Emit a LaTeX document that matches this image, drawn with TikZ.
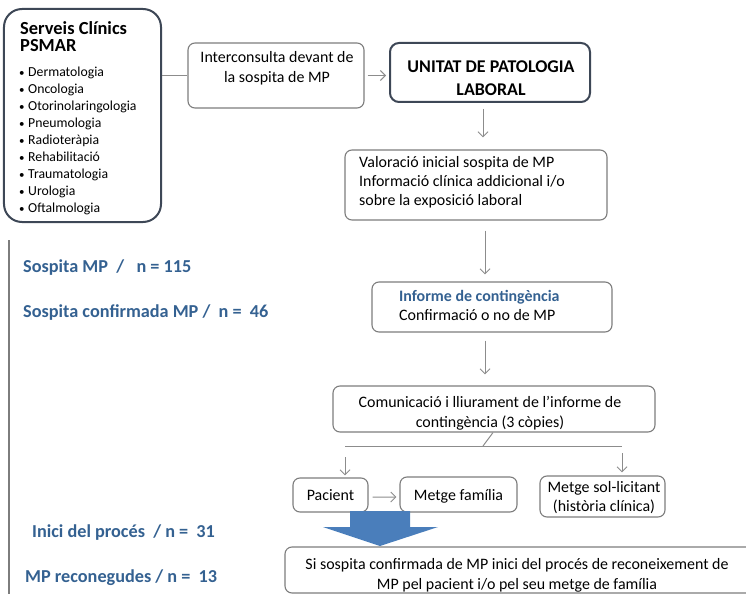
\documentclass[tikz,border=0pt]{standalone}
\usepackage{fontspec}
\setmainfont{Carlito}
\usetikzlibrary{arrows.meta,calc}
\definecolor{bluetxt}{RGB}{52,97,145}
\definecolor{boxgray}{RGB}{125,125,125}
\definecolor{darkbox}{RGB}{61,71,86}
\definecolor{arrowgray}{RGB}{140,140,140}
\definecolor{bigblue}{RGB}{74,126,187}
\begin{document}
\begin{tikzpicture}[x=1bp,y=-1bp,
  box/.style={draw=boxgray,line width=1.1bp,rounded corners=7bp,inner sep=0},
  darkboxst/.style={draw=darkbox,line width=2bp,rounded corners=9bp,inner sep=0},
  conn/.style={draw=arrowgray,line width=1bp},
  arr/.style={conn,-{Straight Barb[length=5bp,width=10bp]}},
  tl/.style={inner sep=0,anchor=base west,font=\fontsize{16}{19}\selectfont},
  tc/.style={inner sep=0,anchor=base,font=\fontsize{16}{19}\selectfont},
  bul/.style={inner sep=0,anchor=base west,font=\fontsize{13.8}{17}\selectfont},
  stat/.style={inner sep=0,anchor=base west,text=bluetxt,font=\fontsize{18.3}{20}\selectfont\bfseries},
]
\useasboundingbox (0,0) rectangle (746,594);

% boxes
\node[darkboxst,rounded corners=18bp,minimum width=157bp,minimum height=213bp] (serveis) at (82.5,115.5) {};
\node[box,minimum width=176bp,minimum height=65bp] (inter) at (276,75.5) {};
\node[darkboxst,minimum width=200bp,minimum height=59bp] (unitat) at (490,72.5) {};
\node[box,minimum width=262bp,minimum height=70bp] (valor) at (476,185) {};
\node[box,minimum width=240bp,minimum height=50bp] (informe) at (492,307) {};
\node[box,minimum width=322bp,minimum height=46bp] (comunic) at (494,409) {};
\node[box,minimum width=75bp,minimum height=34bp] (pacient) at (330.5,495) {};
\node[box,minimum width=117bp,minimum height=35bp] (metgef) at (458.5,494.5) {};
\node[box,minimum width=125bp,minimum height=41bp] (metges) at (602.5,496.5) {};
\node[box,minimum width=480bp,minimum height=46bp] (final) at (525,570) {};

% Serveis text
\node[inner sep=0,anchor=base west,font=\fontsize{18.5}{17}\selectfont\bfseries] (sh1) at (20,35) {Serveis Clínics};
\node[inner sep=0,anchor=base west,font=\fontsize{18.5}{17}\selectfont\bfseries] (sh2) at (20,52) {PSMAR};
\foreach \t [count=\i from 0] in {Dermatologia,Oncologia,Otorinolaringologia,Pneumologia,Radioteràpia,Rehabilitació,Traumatologia,Urologia,Oftalmologia}
  \node[bul] (b\i) at (19,77+17*\i) {\makebox[9bp][l]{\fontsize{11}{11}\selectfont•}\t};

% other texts
\node[tc] (it1) at (277,63) {Interconsulta devant de};
\node[tc] (it2) at (277,83) {la sospita de MP};
\node[tc,font=\fontsize{18}{20}\selectfont\bfseries] (ut1) at (491,73) {UNITAT DE PATOLOGIA};
\node[tc,font=\fontsize{18}{20}\selectfont\bfseries] (ut2) at (491,96) {LABORAL};
\node[tl] (vt1) at (359,168) {Valoració inicial sospita de MP};
\node[tl] (vt2) at (359,187) {Informació clínica addicional i/o};
\node[tl] (vt3) at (359,206) {sobre la exposició laboral};
\node[tl,text=bluetxt,font=\fontsize{16}{19}\selectfont\bfseries] (ft1) at (399,301) {Informe de contingència};
\node[tl] (ft2) at (399,320) {Confirmació o no de MP};
\node[tc] (ct1) at (490,407) {Comunicació i lliurament de l’informe de};
\node[tc] (ct2) at (490,427) {contingència (3 còpies)};
\node[tc] (pt) at (330.5,500) {Pacient};
\node[tc] (mft) at (458.5,500) {Metge família};
\node[tc] (mst1) at (604,492) {Metge sol-licitant};
\node[tc] (mst2) at (604,511) {(història clínica)};
\node[tc] (fn1) at (517,569) {Si sospita confirmada de MP inici del procés de reconeixement de};
\node[tc] (fn2) at (517,589) {MP pel pacient i/o pel seu metge de família};

% stats
\draw[draw=boxgray,line width=1.2bp] (9,240) -- (9,594);
\node[stat] (s1) at (23,272) {Sospita MP\ \ /\ \ \ n = 115};
\node[stat] (s2) at (23,317) {Sospita confirmada MP /\ \ n =\ \ 46};
\node[stat] (s3) at (32,537) {Inici del procés\ \ / n =\ \ 31};
\node[stat] (s4) at (25,582) {MP reconegudes / n =\ \ 13};

% connectors
\draw[conn] (inter.west -| serveis.east) -- (inter.west);
\draw[arr] ([xshift=3bp]inter.east) -- ([xshift=-3bp]unitat.west |- inter.east);
\draw[arr] ($(unitat.south)+(-7,6)$) -- ($(valor.north)+(7,-12)$);
\draw[arr] ($(valor.south)+(9,10)$) -- ($(informe.north)+(-7,-7)$);
\draw[arr] ($(informe.south)+(-7,8)$) -- ($(comunic.north)+(-9,-11)$);
\coordinate (hl) at (345,446);
\coordinate (hr) at (622,446);
\coordinate (hm) at (483,446);
\draw[conn] (hl) -- (hr);
\draw[conn] ($(comunic.south)+(-1,0)$) -- (hm);
\draw[arr] ($(hl)+(0,11)$) -- ($(hl |- pacient.north)+(0,-2)$);
\draw[arr] ($(hr)+(0,7)$) -- ($(hr |- metges.north)+(0,-3)$);
\draw[arr] ($(pacient.east)+(4,2)$) -- ($(metgef.west)+(-3,2.5)$);

% big blue arrow
\fill[bigblue] (350,511) -- (410,511) -- (410,527) -- (438,527) -- (380,546) -- (323,527) -- (350,527) -- cycle;
\end{tikzpicture}
\end{document}
